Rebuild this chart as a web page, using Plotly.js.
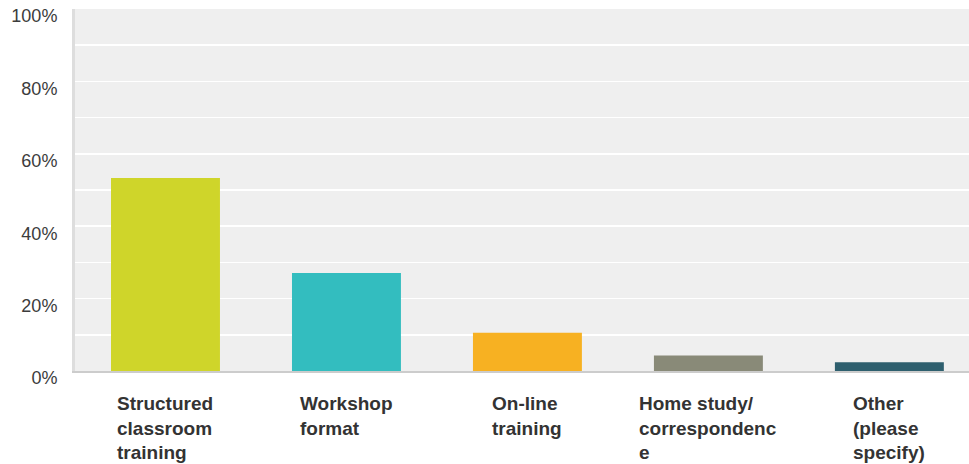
<!DOCTYPE html>
<html>
<head>
<meta charset="utf-8">
<script src="https://cdn.plot.ly/plotly-3.0.1.min.js"></script>
<style>html,body{margin:0;padding:0;background:#fff;}#chart{width:969px;height:464px;}</style>
</head>
<body>
<div id="chart"></div>
<script>
const categories = ["Structured<br>classroom<br>training", "Workshop<br>format", "On-line<br>training", "Home study/<br>correspondenc<br>e", "Other<br>(please<br>specify)"];
const values = [53.3, 27.1, 10.6, 4.3, 2.4];
const barColors = ["#cfd52a", "#33bdbf", "#f7b122", "#898a78", "#2e5f6e"];
const yTickVals = [0, 20, 40, 60, 80, 100];
const yTickText = ["0%", "20%", "40%", "60%", "80%", "100%"];

const xIdx = categories.map((c, i) => i);

const trace = {
  type: "bar",
  x: xIdx,
  y: values,
  marker: {color: barColors},
  hoverinfo: "none"
};

const annotations = categories.map((c, i) => ({
  x: i, xref: "x", y: 0, yref: "paper",
  yanchor: "top", xanchor: "center", yshift: -20,
  text: c, align: "left", showarrow: false,
  font: {family: "Liberation Sans, Arial, sans-serif", size: 19, color: "#333333", weight: "bold"}
}));

const layout = {
  width: 969, height: 464,
  margin: {l: 75, r: 0, t: 9, b: 93, pad: 0},
  paper_bgcolor: "#ffffff",
  plot_bgcolor: "#efefef",
  bargap: 0.398,
  showlegend: false,
  font: {family: "Liberation Sans, Arial, sans-serif"},
  xaxis: {
    range: [-0.5, 4.44],
    showticklabels: false,
    showgrid: false,
    zeroline: false,
    showline: true, linecolor: "#cccccc", linewidth: 2,
    ticks: "", fixedrange: true
  },
  yaxis: {
    range: [0, 100],
    tickmode: "array",
    tickvals: yTickVals,
    ticktext: yTickText,
    showgrid: true, gridcolor: "#ffffff", gridwidth: 1.5,
    minor: {tickmode: "array", tickvals: [10, 30, 50, 70, 90], showgrid: true, gridcolor: "#ffffff", gridwidth: 1.5, ticks: ""},
    zeroline: false,
    showline: true, linecolor: "#dddddd", linewidth: 3,
    ticks: "",
    ticklabelstandoff: 11,
    ticklabelshift: 7,
    tickfont: {size: 18, color: "#3c3c3c"},
    fixedrange: true
  },
  annotations: annotations
};

Plotly.newPlot("chart", [trace], layout, {displayModeBar: false, staticPlot: true});
</script>
</body>
</html>
